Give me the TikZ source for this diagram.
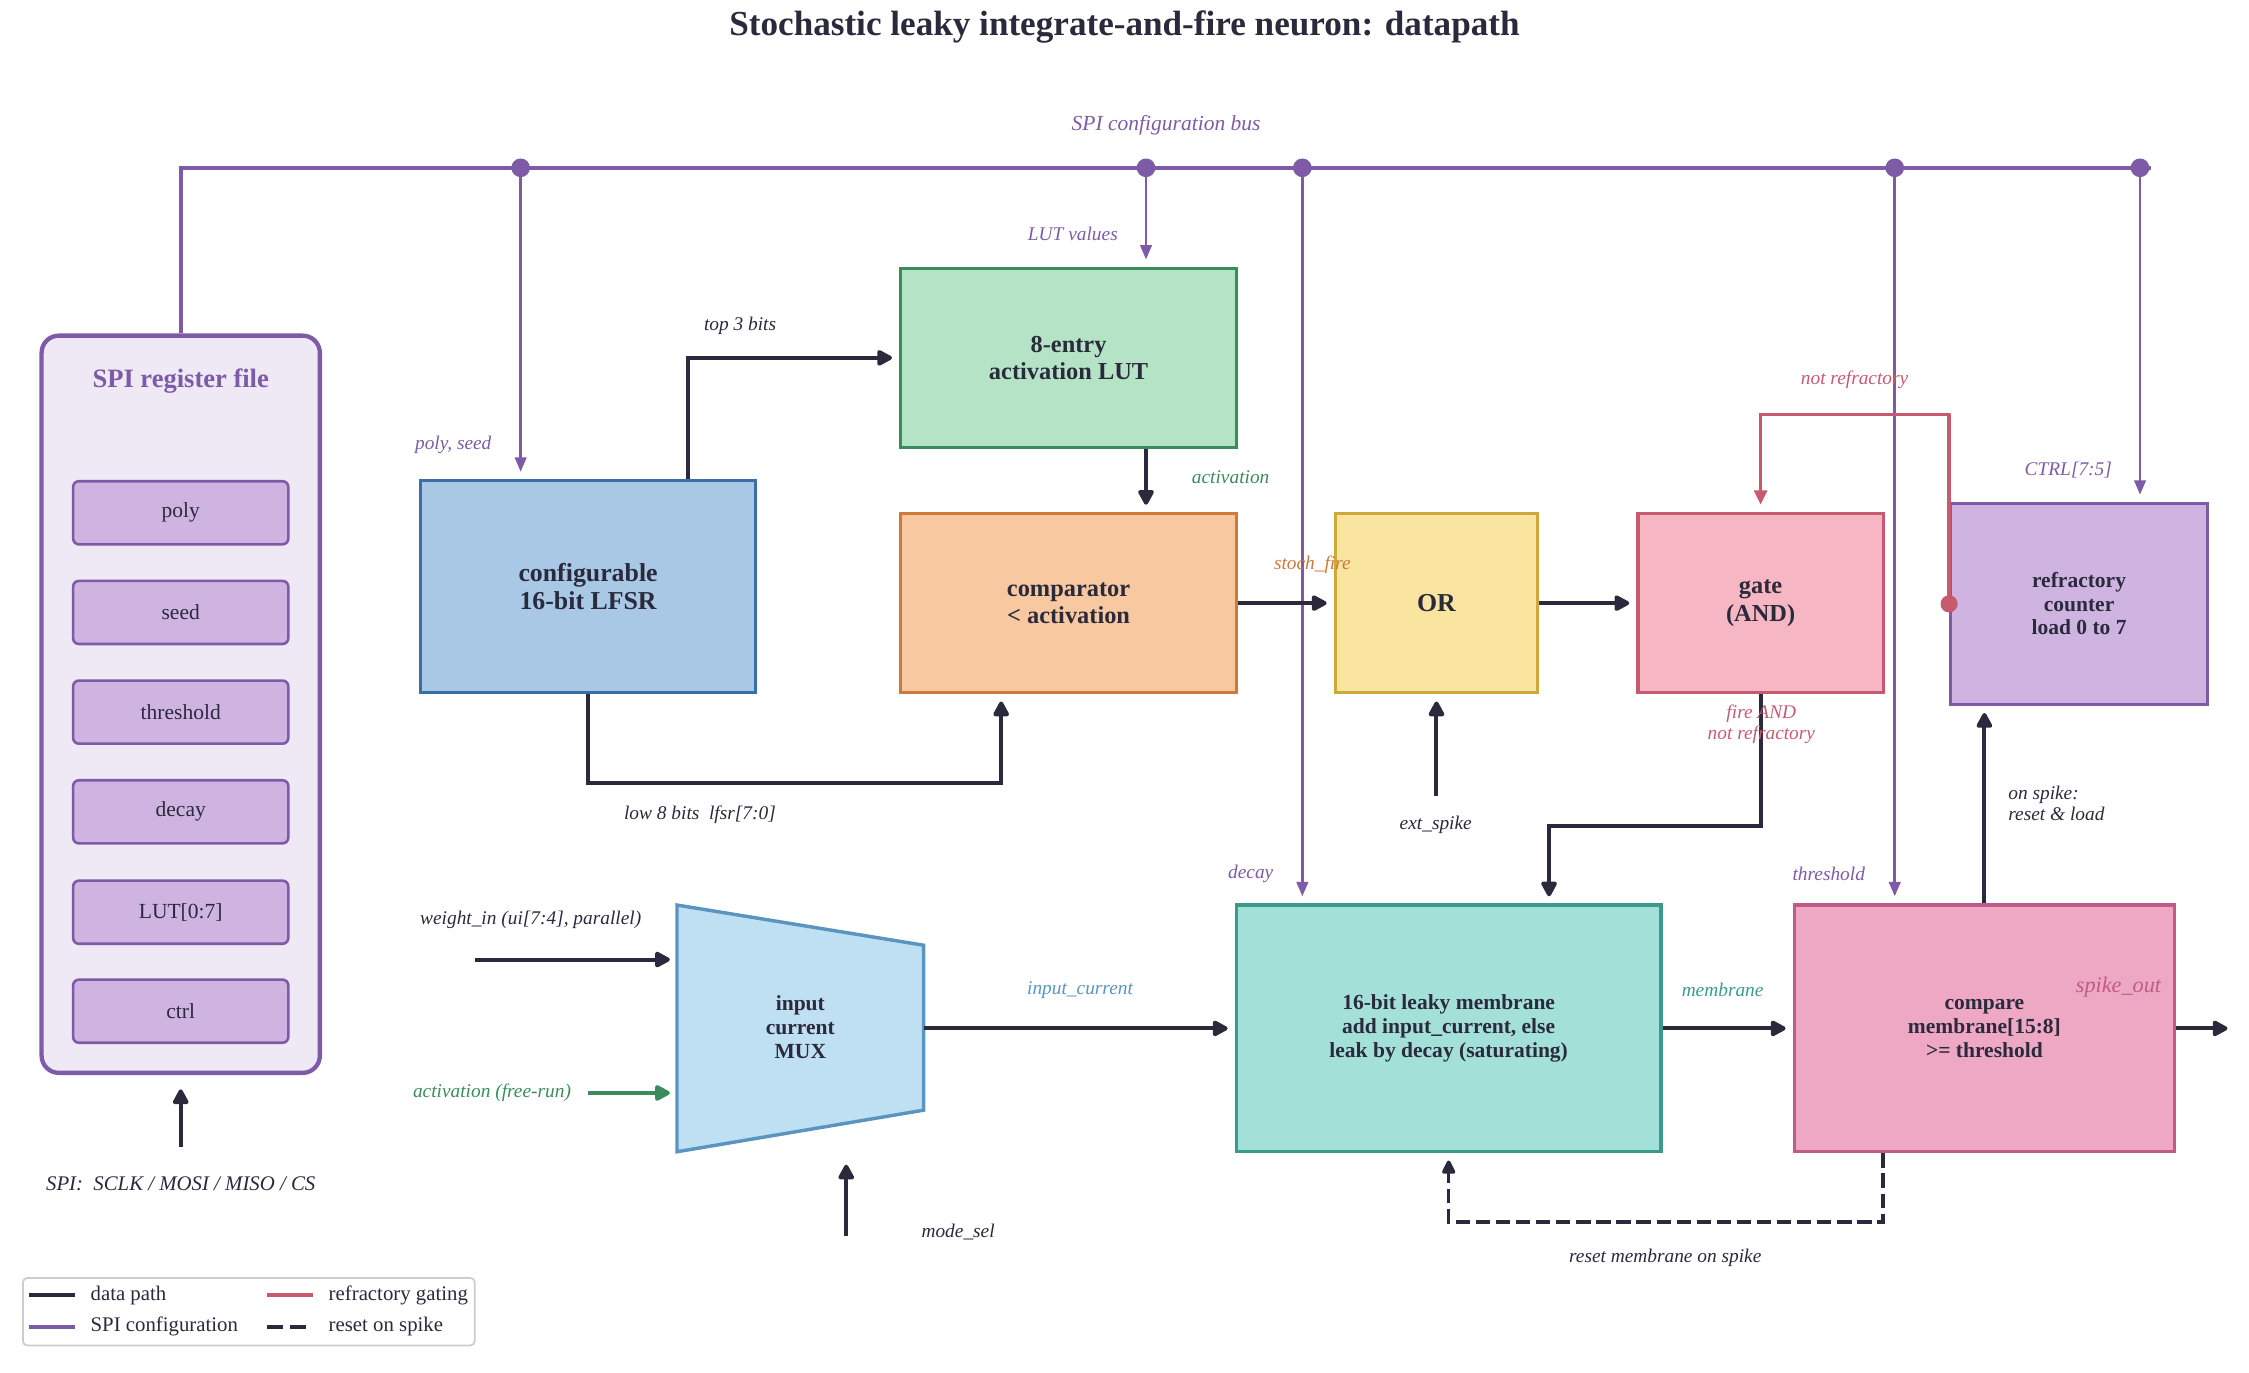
\documentclass[tikz,border=0pt]{standalone}
\usepackage{fontspec}
\setmainfont{Liberation Serif}
\usetikzlibrary{arrows.meta,calc}
\definecolor{ink}{HTML}{2A2A3C}
\definecolor{spi}{HTML}{7D5BA6}
\definecolor{rfbg}{HTML}{EFE8F5}
\definecolor{regfill}{HTML}{CFB4E2}
\definecolor{lfsrfill}{HTML}{A8C8E6}
\definecolor{lfsrline}{HTML}{3B6EA5}
\definecolor{lutfill}{HTML}{B5E3C6}
\definecolor{lutline}{HTML}{3A8C5C}
\definecolor{cmpfill}{HTML}{F8C8A0}
\definecolor{cmpline}{HTML}{CF7A3C}
\definecolor{orfill}{HTML}{FAE5A0}
\definecolor{orline}{HTML}{CFA83A}
\definecolor{gatefill}{HTML}{F6B6C4}
\definecolor{gateline}{HTML}{C85A70}
\definecolor{memfill}{HTML}{A3E0D8}
\definecolor{memline}{HTML}{3A9A8C}
\definecolor{thfill}{HTML}{EEA8C4}
\definecolor{thline}{HTML}{C05A88}
\definecolor{muxfill}{HTML}{BFE0F2}
\definecolor{muxline}{HTML}{5A94C0}
\definecolor{legline}{HTML}{CCCCCC}
\newcommand\titlef{\fontsize{24.5}{28}\selectfont\bfseries}
\newcommand\bigbf{\fontsize{17}{19}\selectfont\bfseries}
\newcommand\smbf{\fontsize{15}{16.5}\selectfont\bfseries}
\newcommand\lblf{\fontsize{13.5}{15}\selectfont\itshape}
\newcommand\regf{\fontsize{15}{17}\selectfont}
\newcommand\legf{\fontsize{14.5}{16}\selectfont}
\tikzset{
  blk/.style={draw, line width=2.2pt, align=center, text=ink, inner sep=2pt, font=\bigbf},
  blks/.style={blk, font=\smbf},
  data/.style={draw=ink, line width=2.8pt, -{Triangle[length=12pt,width=12pt,round]}, shorten >=5pt},
  cfg/.style={draw=spi, line width=1.8pt, -{Triangle[length=10pt,width=8pt]}, shorten >=5pt},
  gating/.style={draw=gateline, line width=2.4pt, -{Triangle[length=10pt,width=9pt]}, shorten >=5pt},
  resetl/.style={draw=ink, line width=2.5pt, dash pattern=on 10pt off 4pt, -{Triangle[length=11pt,width=10pt,round]}, shorten >=5pt},
  lbl/.style={font=\lblf, text=ink, inner sep=0pt},
  reg/.style={draw=spi, fill=regfill, line width=1.8pt, rounded corners=4pt, minimum width=150pt, minimum height=44pt, font=\regf, text=ink},
}
\begin{document}
\begin{tikzpicture}[x=1pt,y=-1pt]
\useasboundingbox (0,0) rectangle (1568,957);

% title
\node[font=\titlef, text=ink] (title) at (784,19) {Stochastic leaky integrate-and-fire neuron: datapath};

% SPI register file
\node[draw=spi, fill=rfbg, line width=3pt, rounded corners=12pt, minimum width=194pt, minimum height=514pt] (rf) at (126,491) {};
\node[font=\fontsize{18.5}{20}\selectfont\bfseries, text=spi] (rft) at (126,266) {SPI register file};
\node[reg] (rpoly) at (126,357.5) {poly};
\node[reg] (rseed) at (126,427) {seed};
\node[reg] (rthr) at (126,496.5) {threshold};
\node[reg] (rdec) at (126,566) {decay};
\node[reg] (rlut) at (126,636) {LUT[0:7]};
\node[reg] (rctrl) at (126,705) {ctrl};

% blocks
\node[blk, fill=lfsrfill, draw=lfsrline, minimum width=234pt, minimum height=148pt, font=\fontsize{18}{20}\selectfont\bfseries] (lfsr) at (410,409) {configurable\\16-bit LFSR};
\node[blk, fill=lutfill, draw=lutline, minimum width=234pt, minimum height=125pt] (lut) at (745,249.5) {8-entry\\activation LUT};
\node[blk, fill=cmpfill, draw=cmpline, minimum width=234pt, minimum height=125pt] (cmp) at (745,420.5) {comparator\\< activation};
\node[blk, fill=orfill, draw=orline, minimum width=141pt, minimum height=125pt, font=\fontsize{18}{20}\selectfont\bfseries] (or) at (1001.5,420.5) {OR};
\node[blk, fill=gatefill, draw=gateline, minimum width=171pt, minimum height=125pt] (gate) at (1227.5,420.5) {gate\\(AND)};
\node[blks, fill=regfill, draw=spi, minimum width=179pt, minimum height=140pt] (refr) at (1449.5,421) {refractory\\counter\\load 0 to 7};
\node[blks, fill=memfill, draw=memline, minimum width=296pt, minimum height=172pt] (mem) at (1010,717) {16-bit leaky membrane\\add input\_current, else\\leak by decay (saturating)};
\node[blks, fill=thfill, draw=thline, minimum width=265pt, minimum height=172pt] (cth) at (1383.5,717) {compare\\membrane[15:8]\\>= threshold};

% MUX
\coordinate (m1) at (472,631);
\coordinate (m2) at (644,659);
\coordinate (m3) at (644,774);
\coordinate (m4) at (472,803);
\draw[fill=muxfill, draw=muxline, line width=2.4pt] (m1) -- (m2) -- (m3) -- (m4) -- cycle;
\node[font=\smbf, align=center, text=ink] (mux) at (558,716) {input\\current\\MUX};
\coordinate (muxin1) at (472,669);
\coordinate (muxin2) at (472,762);
\coordinate (muxout) at (644,717);
\coordinate (muxsel) at (590,807);

% free ends
\coordinate (spiin) at (126,800);
\coordinate (win) at (331,669);
\coordinate (actin) at (410,762);
\coordinate (msel) at (590,862);
\coordinate (ext) at (1001.5,555);
\coordinate (out) at (1553,717);
\coordinate (tap) at (480,250);
\coordinate (lowc) at (698,546);
\coordinate (fc) at (1080,576);
\coordinate (ng) at (1360,289);
\coordinate (rs) at (1313,852);
\coordinate (busend) at (1500,117);
\coordinate (j1) at (363,117);
\coordinate (j2) at (799,117);
\coordinate (j3) at (908,117);
\coordinate (j4) at (1321,117);
\coordinate (j5) at (1492,117);

% SPI bus
\draw[draw=spi, line width=2.8pt] (rf.north) |- (busend);
\draw[cfg] (j1) -- (lfsr.north -| j1);
\draw[cfg] (j2) -- (lut.north -| j2);
\draw[cfg] (j3) -- (mem.north -| j3);
\draw[cfg] (j4) -- (cth.north -| j4);
\draw[cfg] (j5) -- (refr.north -| j5);
\foreach \j in {j1,j2,j3,j4,j5} \fill[spi] (\j) circle (6.5pt);

% data path
\draw[data, shorten >=10pt] (spiin) -- (rf.south);
\draw[data] (lfsr.north -| tap) |- (lut.west);
\draw[data] (lut.south -| j2) -- (cmp.north -| j2);
\draw[data] (lfsr.south) |- (lowc) -- (cmp.south -| lowc);
\draw[data] (cmp.east) -- (or.west);
\draw[data] (ext) -- (or.south);
\draw[data] (or.east) -- (gate.west);
\draw[data] (gate.south) |- (fc) -- (mem.north -| fc);
\draw[data] (win) -- (muxin1);
\draw[data, draw=lutline] (actin) -- (muxin2);
\draw[data] (msel) -- (muxsel);
\draw[data] (muxout) -- (mem.west);
\draw[data] (mem.east) -- (cth.west);
\draw[data] (cth.north) -- (refr.south -| cth.north);
\draw[data, shorten >=0pt] (cth.east) -- (out);
\draw[resetl] (cth.south -| rs) |- (mem.south |- rs) -- (mem.south);

% refractory gating
\draw[gating] (refr.west) |- (ng) -| (gate.north);
\fill[gateline] (refr.west) circle (6pt);

% labels
\node[lbl, text=spi, font=\fontsize{15}{17}\selectfont\itshape] (lbus) at (813,87) {SPI configuration bus};
\node[lbl, text=spi] (llut) at (748,163) {LUT values};
\node[lbl, text=spi] (lps) at (316,310) {poly, seed};
\node[lbl] (ltop) at (516,227) {top 3 bits};
\node[lbl, text=lutline] (lact) at (858,333) {activation};
\node[lbl] (llow) at (488,568) {low 8 bits\enspace lfsr[7:0]};
\node[lbl, text=cmpline] (lsf) at (915,394) {stoch\_fire};
\node[lbl] (lext) at (1001,575) {ext\_spike};
\node[lbl, text=gateline] (lnr) at (1293,265) {not refractory};
\node[lbl, text=spi] (lctrl) at (1442,328) {CTRL[7:5]};
\node[lbl, text=gateline, align=center, font=\fontsize{13.5}{15}\selectfont\itshape] (lfire) at (1228,505) {fire AND\\not refractory};
\node[lbl, text=spi] (ldec) at (872,609) {decay};
\node[lbl, text=spi] (lthr) at (1275,609) {threshold};
\node[lbl, align=left, anchor=west, font=\fontsize{13.5}{15}\selectfont\itshape] (lspk) at (1400,560) {on spike:\\reset \& load};
\node[lbl] (lwin) at (370,641) {weight\_in (ui[7:4], parallel)};
\node[lbl, text=lutline] (lafr) at (343,762) {activation (free-run)};
\node[lbl, text=muxline] (lic) at (753,690) {input\_current};
\node[lbl, text=memline] (lmem) at (1201,690) {membrane};
\node[lbl, text=thline, font=\fontsize{15.5}{17}\selectfont\itshape] (lout) at (1477,688) {spike\_out};
\node[lbl] (lmsel) at (668,859) {mode\_sel};
\node[lbl] (lrst) at (1161,877) {reset membrane on spike};
\node[lbl, font=\fontsize{14.5}{16}\selectfont\itshape] (lspi) at (126,825) {SPI:\enspace SCLK / MOSI / MISO / CS};

% legend
\node[draw=legline, fill=white, line width=1.2pt, rounded corners=3pt, minimum width=315pt, minimum height=47pt] (leg) at (173.5,914.5) {};
\coordinate (ka1) at (20,903); \coordinate (kb1) at (52,903);
\coordinate (ka2) at (20,925); \coordinate (kb2) at (52,925);
\coordinate (ka3) at (186,903); \coordinate (kb3) at (218,903);
\coordinate (ka4) at (186,925); \coordinate (kb4) at (218,925);
\draw[ink, line width=2.8pt] (ka1) -- (kb1);
\draw[spi, line width=2.8pt] (ka2) -- (kb2);
\draw[gateline, line width=2.8pt] (ka3) -- (kb3);
\draw[ink, line width=2.8pt, dash pattern=on 11pt off 5pt] (ka4) -- (kb4);
\node[font=\legf, text=ink, anchor=west, inner sep=0pt] (t1) at (63,903) {data path};
\node[font=\legf, text=ink, anchor=west, inner sep=0pt] (t2) at (63,925) {SPI configuration};
\node[font=\legf, text=ink, anchor=west, inner sep=0pt] (t3) at (229,903) {refractory gating};
\node[font=\legf, text=ink, anchor=west, inner sep=0pt] (t4) at (229,925) {reset on spike};
\end{tikzpicture}
\end{document}
